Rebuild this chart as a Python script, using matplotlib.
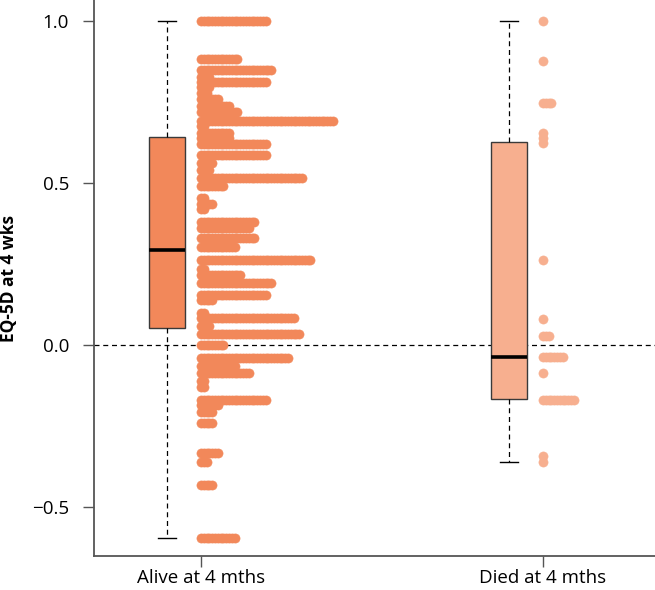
import matplotlib
matplotlib.use("Agg")
import matplotlib.pyplot as plt

# ---------------- data ----------------
groups = ["Alive at 4 mths", "Died at 4 mths"]

alive_values = [1.000, 0.883, 0.848, 0.827, 0.812, 0.796, 0.779, 0.760, 0.739, 0.718,
                0.691, 0.675, 0.656, 0.640, 0.620, 0.587, 0.562, 0.541, 0.516, 0.490,
                0.455, 0.435, 0.420, 0.381, 0.362, 0.330, 0.304, 0.263, 0.235, 0.217,
                0.191, 0.155, 0.140, 0.100, 0.083, 0.058, 0.034, 0.000, -0.039, -0.064,
                -0.086, -0.110, -0.130, -0.170, -0.185, -0.208, -0.239, -0.334, -0.360,
                -0.433, -0.594]
alive_counts = [24, 14, 26, 4, 24, 4, 3, 7, 11, 14,
                48, 2, 11, 11, 24, 24, 5, 4, 37, 9,
                2, 5, 2, 20, 18, 20, 13, 40, 2, 15,
                26, 24, 5, 2, 34, 4, 36, 9, 32, 13,
                18, 2, 2, 24, 7, 5, 5, 7, 3,
                5, 13]

died_values = [1.000, 0.877, 0.746, 0.656, 0.640, 0.624, 0.264, 0.080, 0.028, -0.036,
               -0.086, -0.169, -0.343, -0.362]
died_counts = [1, 1, 4, 1, 1, 1, 1, 1, 3, 8,
               1, 12, 1, 1]

# boxplot summaries
box_q1 = [0.053, -0.167]
box_median = [0.294, -0.036]
box_q3 = [0.643, 0.628]
whisker_low = [-0.594, -0.362]
whisker_high = [1.000, 1.000]

yticks = [-0.5, 0.0, 0.5, 1.0]

# ---------------- style ----------------
alive_color = "#F2885A"
died_color = "#F7AF8F"
colors = [alive_color, died_color]
plt.rcParams['font.family'] = ['Open Sans', 'DejaVu Sans']

W, H = 655, 590
ax_left, ax_bottom_px = 94, 556
fig = plt.figure(figsize=(W / 100, H / 100), dpi=100)
ax = fig.add_axes([ax_left / W, 1 - ax_bottom_px / H, 1 - ax_left / W, ax_bottom_px / H])

positions = [1, 2]
box_offset = -0.1
step = 0.0082

# zero reference line
ax.axhline(0, ls=(0, (4, 3)), color="black", lw=0.9, zorder=0.5)

# stacked strip points
for pos, vals, cnts, col in [(positions[0], alive_values, alive_counts, alive_color),
                             (positions[1], died_values, died_counts, died_color)]:
    xs, ys = [], []
    for v, c in zip(vals, cnts):
        for i in range(c):
            xs.append(pos + i * step)
            ys.append(v)
    ax.plot(xs, ys, ls="none", marker="o", ms=6.6, mfc=col, mec=col, mew=0.4,
            zorder=2)

# boxplots
stats = []
for i in range(2):
    stats.append(dict(med=box_median[i], q1=box_q1[i], q3=box_q3[i],
                      whislo=whisker_low[i], whishi=whisker_high[i], fliers=[]))
bp = ax.bxp(stats, positions=[p + box_offset for p in positions], widths=0.105,
            capwidths=0.053, patch_artist=True, showfliers=False,
            boxprops=dict(edgecolor="#3a3a3a", linewidth=1.0),
            medianprops=dict(color="black", linewidth=2.6, solid_capstyle="butt"),
            whiskerprops=dict(color="black", linewidth=0.9, linestyle=(0, (4, 3))),
            capprops=dict(color="black", linewidth=1.0), manage_ticks=False,
            zorder=3)
for patch, col in zip(bp["boxes"], colors):
    patch.set_facecolor(col)

# axes
ax.set_xlim(0.687, 2.3275)
ax.set_ylim(-0.651, 1.065)
ax.set_xticks(positions)
ax.set_xticklabels(groups, fontsize=13.5)
ax.set_yticks(yticks)
ax.set_yticklabels([f"{t:.1f}".replace("-", "\u2212") for t in yticks], fontsize=13.5)
ax.set_ylabel("EQ-5D at 4 wks", fontsize=12.5, fontweight="bold", labelpad=10)

for side in ["top", "right"]:
    ax.spines[side].set_visible(False)
for side in ["left", "bottom"]:
    ax.spines[side].set_color("#555555")
    ax.spines[side].set_linewidth(1.3)
ax.tick_params(axis="y", length=8, width=1.0, color="#555555", pad=10)
ax.tick_params(axis="x", length=8, width=1.0, color="#555555", pad=1.5)

fig.savefig("out.png", dpi=100)
